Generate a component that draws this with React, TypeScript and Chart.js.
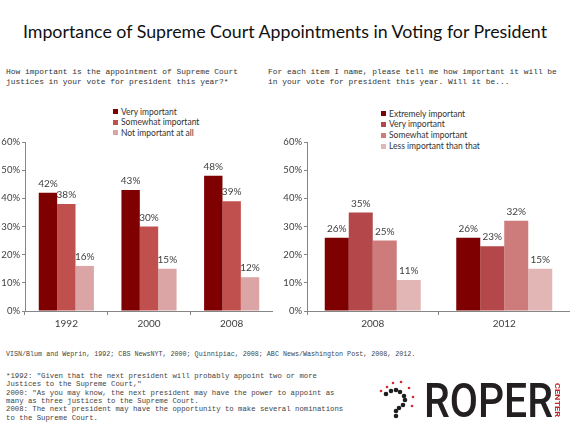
import React, { useEffect, useRef } from "react";
import { Chart, registerables } from "chart.js";

Chart.register(...registerables);

// ---- data ----
const leftCategories = ["1992", "2000", "2008"];
const leftVeryImportant = [42, 43, 48];
const leftSomewhatImportant = [38, 30, 39];
const leftNotImportant = [16, 15, 12];

const rightCategories = ["2008", "2012"];
const rightExtremely = [26, 26];
const rightVery = [35, 23];
const rightSomewhat = [25, 32];
const rightLess = [11, 15];

const yMin = 0;
const yMax = 60;
const yStep = 10;

const leftSeriesNames = ["Very important", "Somewhat important", "Not important at all"];
const leftColors = ["#7f0000", "#c0504d", "#dba5a5"];
const rightSeriesNames = ["Extremely important", "Very important", "Somewhat important", "Less important than that"];
const rightColors = ["#7f0000", "#b3474a", "#cd7b7b", "#e3b6b6"];

const FONT = "Lato, 'Open Sans', sans-serif";
const MONO = "'Liberation Mono', 'Courier New', monospace";

const valueLabels = {
  id: "valueLabels",
  afterDatasetsDraw(chart: any) {
    const ctx = chart.ctx;
    ctx.save();
    ctx.font = `10px ${FONT}`;
    ctx.fillStyle = "#404040";
    ctx.textAlign = "center";
    ctx.textBaseline = "bottom";
    chart.data.datasets.forEach((ds: any, i: number) => {
      const meta = chart.getDatasetMeta(i);
      meta.data.forEach((el: any, j: number) => {
        ctx.fillText(ds.data[j] + "%", el.x, el.y - 4);
      });
    });
    ctx.restore();
  },
};

function makeConfig(categories: string[], names: string[], colors: string[], series: number[][], catPct: number) {
  return {
    type: "bar" as const,
    data: {
      labels: categories,
      datasets: series.map((d, i) => ({
        label: names[i],
        data: d,
        backgroundColor: colors[i],
        borderWidth: 0,
        barPercentage: 1,
        categoryPercentage: catPct,
      })),
    },
    options: {
      responsive: false,
      animation: false as const,
      layout: { padding: { top: 12, left: 0, right: 0, bottom: 0 } },
      plugins: { legend: { display: false }, tooltip: { enabled: false } },
      scales: {
        x: {
          offset: true,
          grid: { drawOnChartArea: false, drawTicks: true, tickLength: 4, color: "#868686", offset: true },
          border: { color: "#868686" },
          ticks: { font: { family: FONT, size: 10 }, color: "#404040", padding: 3 },
          afterFit: (s: any) => { s.height = 19; },
        },
        y: {
          min: yMin,
          max: yMax,
          ticks: {
            stepSize: yStep,
            font: { family: FONT, size: 9.5 },
            color: "#404040",
            padding: 2,
            callback: (v: any) => v + "%",
          },
          grid: { drawOnChartArea: false, drawTicks: true, tickLength: 3, color: "#868686" },
          border: { color: "#868686" },
          afterFit: (s: any) => { s.width = 25; },
        },
      },
    },
    plugins: [valueLabels],
  };
}

function BarChart(props: { left: number; top: number; width: number; height: number; config: any }) {
  const ref = useRef<HTMLCanvasElement>(null);
  useEffect(() => {
    const chart = new Chart(ref.current as HTMLCanvasElement, props.config);
    return () => chart.destroy();
  }, []);
  return (
    <canvas
      ref={ref}
      width={props.width}
      height={props.height}
      style={{ position: "absolute", left: props.left, top: props.top, width: props.width, height: props.height }}
    />
  );
}

function Legend(props: { left: number; top: number; names: string[]; colors: string[]; spacing: number }) {
  return (
    <div style={{ position: "absolute", left: props.left, top: props.top }}>
      {props.names.map((n, i) => (
        <div key={n} style={{ position: "absolute", left: 0, top: i * props.spacing, whiteSpace: "nowrap", height: 11, display: "flex", alignItems: "center" }}>
          <span style={{ display: "inline-block", width: 5, height: 5, background: props.colors[i], marginRight: 3 }} />
          <span style={{ font: `8.5px ${FONT}`, color: "#333" }}>{n}</span>
        </div>
      ))}
    </div>
  );
}

function Text(props: { left: number; top: number; size: number; lh: number; lines: string[]; family: string; color?: string }) {
  return (
    <div style={{ position: "absolute", left: props.left, top: props.top, fontFamily: props.family, fontSize: props.size, lineHeight: props.lh + "px", color: props.color || "#222", whiteSpace: "pre" }}>
      {props.lines.map((l, i) => <div key={i}>{l}</div>)}
    </div>
  );
}

export default function App() {
  const leftCfg = makeConfig(leftCategories, leftSeriesNames, leftColors, [leftVeryImportant, leftSomewhatImportant, leftNotImportant], 0.667);
  const rightCfg = makeConfig(rightCategories, rightSeriesNames, rightColors, [rightExtremely, rightVery, rightSomewhat, rightLess], 0.73);

  const blackDots = [[386, 394], [391, 391], [396, 390], [400, 392], [404, 396], [405, 400], [403, 405], [399, 408], [396, 411], [396, 416]];
  const redDots = [[381, 391], [387, 387], [393, 383], [401, 382], [409, 388], [413, 397], [412, 406]];

  return (
    <div style={{ position: "fixed", left: 0, top: 0, width: 570, height: 427, background: "#fff", overflow: "hidden" }}>
      <div style={{ position: "absolute", left: 0, top: 20, width: 570, textAlign: "center", font: `17.8px ${FONT}`, color: "#111", whiteSpace: "nowrap" }}>
        Importance of Supreme Court Appointments in Voting for President
      </div>
      <Text left={6} top={67} size={7.9} lh={10} family={MONO} color="#333" lines={["How important is the appointment of Supreme Court", "justices in your vote for president this year?*"]} />
      <Text left={268} top={67} size={7.9} lh={10} family={MONO} color="#333" lines={["For each item I name, please tell me how important it will be", "in your vote for president this year. Will it be..."]} />

      <Legend left={113} top={106} names={leftSeriesNames} colors={leftColors} spacing={10.6} />
      <Legend left={381} top={108} names={rightSeriesNames} colors={rightColors} spacing={10.9} />

      <BarChart left={0} top={130} width={273} height={200} config={leftCfg} />
      <BarChart left={282} top={130} width={288} height={200} config={rightCfg} />

      <Text left={6} top={350} size={6.7} lh={9} family={MONO} color="#444" lines={["VISN/Blum and Weprin, 1992; CBS NewsNYT, 2000; Quinnipiac, 2008; ABC News/Washington Post, 2008, 2012."]} />
      <Text left={6} top={372} size={7.3} lh={8.35} family={MONO} color="#444" lines={[
        "*1992: \"Given that the next president will probably appoint two or more",
        "Justices to the Supreme Court,\"",
        "2000: \"As you may know, the next president may have the power to appoint as",
        "many as three justices to the Supreme Court.",
        "2008: The next president may have the opportunity to make several nominations",
        "to the Supreme Court.",
      ]} />

      <svg width={570} height={427} style={{ position: "absolute", left: 0, top: 0 }}>
        {blackDots.map((d, i) => <circle key={"b" + i} cx={d[0]} cy={d[1]} r={2.3} fill="#1e1e1e" />)}
        {redDots.map((d, i) => <circle key={"r" + i} cx={d[0]} cy={d[1]} r={1.3} fill="#d42a2a" />)}
        <text x={424} y={417} fontFamily="Roboto, sans-serif" fontSize={48} fontWeight={500} fill="#231f20" textLength={129} lengthAdjust="spacingAndGlyphs">ROPER</text>
        <text transform="translate(555,383) rotate(90)" fontFamily="Roboto, sans-serif" fontSize={6.5} fontWeight="bold" fill="#c0282d" textLength={34} lengthAdjust="spacingAndGlyphs">CENTER</text>
      </svg>
    </div>
  );
}
